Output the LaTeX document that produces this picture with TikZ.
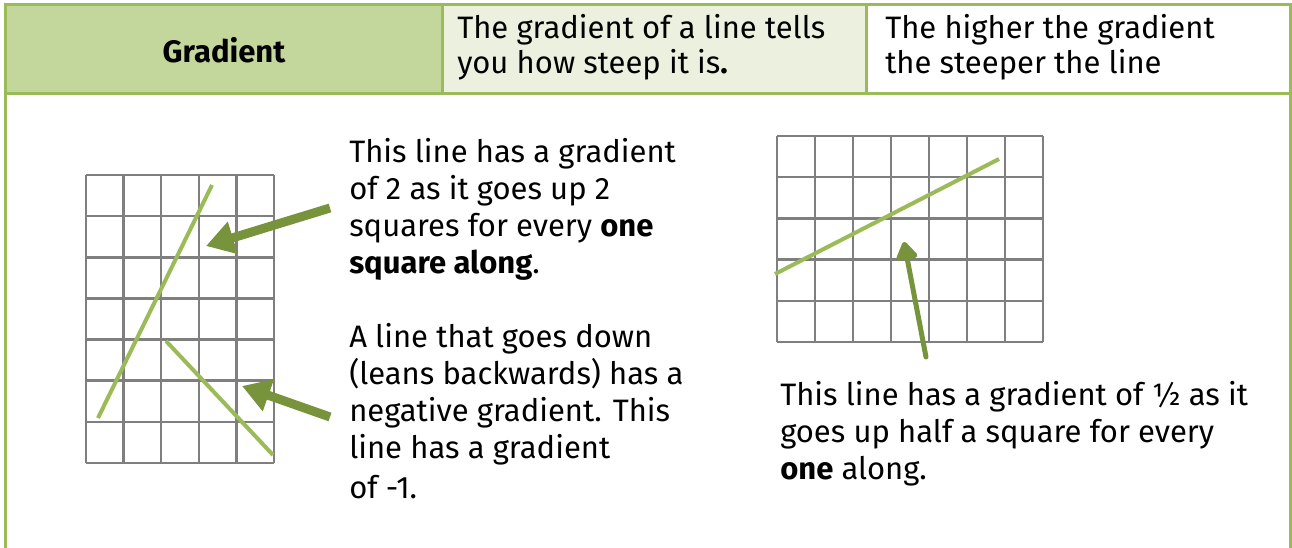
\documentclass[tikz,border=0pt]{standalone}
\usepackage{fontspec}
\setmainfont{Fira Sans}
\usetikzlibrary{arrows.meta}
\definecolor{rim}{HTML}{9BBB59}
\definecolor{headfill}{HTML}{C3D69B}
\definecolor{palefill}{HTML}{EBF1DE}
\definecolor{slope}{HTML}{9BBB59}
\definecolor{pointer}{HTML}{77933C}
\definecolor{gridgray}{HTML}{7F7F7F}
\newcommand{\txtsize}{\fontsize{31}{37}\selectfont}

\begin{document}
\begin{tikzpicture}[x=1pt, y=-1pt, line width=2.5pt,
  txt/.style={anchor=north west, align=left, inner sep=0pt, font=\txtsize},
  sline/.style={slope, line width=4pt},
  bigarrow/.style={pointer, line width=9pt, -{Triangle[length=28pt,width=32pt]}},
  thinarrow/.style={pointer, line width=5pt, line cap=round, -{Triangle[length=20pt,width=24pt,round]}}]
  \useasboundingbox (0,0) rectangle (1292,548);
  % header row
  \fill[headfill] (5,5) rectangle (442,94);
  \fill[palefill] (442,5) rectangle (866,94);
  \draw[rim, line width=3pt] (5,548) -- (5,5) -- (1290,5) -- (1290,548);
  \draw[rim, line width=3pt] (5,94) -- (1290,94);
  \draw[rim, line width=3pt] (442,5) -- (442,94);
  \draw[rim, line width=3pt] (866,5) -- (866,94);
  \node[font=\txtsize\bfseries] (title) at (224,50) {Gradient};
  \node[txt] (what) at (456,13) {The gradient of a line tells\\[-2pt]you how steep it is\textbf{.}};
  \node[txt] (rule) at (884,13) {The higher the gradient\\[-2pt]the steeper the line};

  % left grid, gradient 2 and -1
  \foreach \i in {0,...,5} { \draw[gridgray] (86+\i*37.6,175) -- (86+\i*37.6,463); }
  \foreach \j in {0,...,7} { \draw[gridgray] (86,175+\j*41.14) -- (274,175+\j*41.14); }
  \draw[sline] (98,418) -- (212,185);
  \draw[sline] (166,341) -- (273,455);
  \node[txt] (steep) at (348,137) {This line has a gradient\\of 2 as it goes up 2\\squares for every \textbf{one}\\\textbf{square along}.};
  \node[txt] (down) at (348,322) {A line that goes down\\(leans backwards) has a\\negative gradient. This\\line has a gradient\\[3pt]of -1.};
  \coordinate (tailA) at (330,208);
  \coordinate (tipA) at (206,246);
  \coordinate (tailB) at (330,417);
  \coordinate (tipB) at (242,386);
  \draw[bigarrow] (tailA) -- (tipA);
  \draw[bigarrow] (tailB) -- (tipB);

  % right grid, gradient 1/2
  \foreach \i in {0,...,7} { \draw[gridgray] (777+\i*38,136) -- (777+\i*38,342); }
  \foreach \j in {0,...,5} { \draw[gridgray] (777,136+\j*41.2) -- (1043,136+\j*41.2); }
  \draw[sline] (775,274) -- (999,159);
  \node[txt] (half) at (779,380) {This line has a gradient of ½ as it\\goes up half a square for every\\\textbf{one} along.};
  \coordinate (tailC) at (926,357);
  \coordinate (tipC) at (904,242);
  \draw[thinarrow] (tailC) -- (tipC);
\end{tikzpicture}
\end{document}
